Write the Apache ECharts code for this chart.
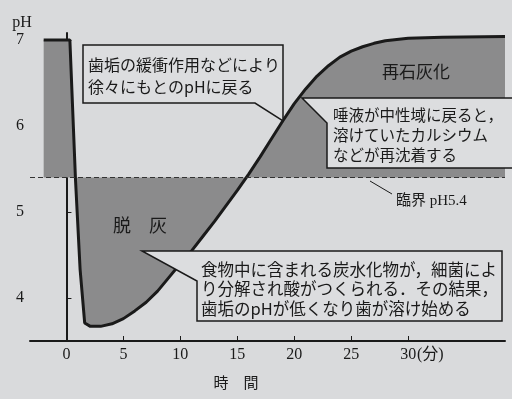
<!DOCTYPE html>
<html>
<head>
<meta charset="utf-8">
<script src="https://cdn.jsdelivr.net/npm/echarts@6/dist/echarts.min.js"></script>
<style>
  html, body { margin: 0; padding: 0; background: #d9dadc; }
  #chart { width: 512px; height: 399px; }
</style>
</head>
<body>
<div id="chart"></div>
<script>
// 時間(分)とpH
const minutes = [-2, 0.3, 0.8, 1.2, 1.6, 2.1, 3, 4, 5, 6, 7, 8, 9, 10, 11, 12, 13, 14, 15, 16, 17, 18, 19, 20, 21, 22, 23, 24, 25, 26, 27, 28, 30, 33, 38.5]
const phValues = [7.0, 7.0, 5.36, 4.33, 3.71, 3.67, 3.67, 3.70, 3.76, 3.85, 3.95, 4.08, 4.24, 4.40, 4.55, 4.72, 4.89, 5.07, 5.25, 5.44, 5.64, 5.85, 6.06, 6.26, 6.43, 6.58, 6.70, 6.80, 6.87, 6.92, 6.96, 6.99, 7.02, 7.03, 7.04]
const criticalPH = 5.4
const xTicks = [0, 5, 10, 15, 20, 25, 30]
const yTicks = [4, 5, 6, 7]

const serif = 'Liberation Serif'
const jp = "'Noto Sans CJK JP', sans-serif"
const ink = '#1a1a1a'
const shade = '#8b8b8c'
const paper = '#dcdddf'

const chart = echarts.init(document.getElementById('chart'))

chart.setOption({
    backgroundColor: '#d9dadc',
    animation: false,
    grid: { left: 30, right: 7, top: 33, bottom: 58 },
    xAxis: {
        type: 'value',
        min: -3.2,
        max: 38.5,
        splitLine: { show: false },
        axisLine: { lineStyle: { color: ink, width: 2 } },
        axisTick: { customValues: xTicks, inside: true, length: 5, lineStyle: { color: ink } },
        axisLabel: { customValues: xTicks, color: ink, fontFamily: serif, fontSize: 16, margin: 6 }
    },
    yAxis: {
        type: 'value',
        min: 3.5,
        max: 7.08,
        splitLine: { show: false },
        axisLine: { show: true, lineStyle: { color: ink, width: 2 } },
        axisTick: { show: true, customValues: yTicks, inside: true, length: 5, lineStyle: { color: ink } },
        axisLabel: { customValues: yTicks, color: ink, fontFamily: serif, fontSize: 16, margin: 6 }
    },
    series: [{
        type: 'line',
        data: minutes.map((m, i) => [m, phValues[i]]),
        showSymbol: false,
        smooth: false,
        lineStyle: { color: ink, width: 3 },
        areaStyle: { origin: criticalPH, color: shade, opacity: 1 },
        markLine: {
            silent: true,
            symbol: 'none',
            label: { show: false },
            lineStyle: { color: '#333', width: 1, type: [5, 3] },
            data: [{ yAxis: criticalPH }]
        }
    }],
    graphic: [
        // 吹き出し
        { type: 'polygon', z: 100, shape: { points: [[83, 45], [283, 45], [283, 121], [255, 103], [83, 103]] },
          style: { fill: paper, stroke: ink, lineWidth: 1.5 } },
        { type: 'text', z: 101, x: 88, y: 76,
          style: { text: '歯垢の緩衝作用などにより\n徐々にもとのpHに戻る', font: '16px ' + jp, lineHeight: 22, fill: ink, verticalAlign: 'middle' } },
        { type: 'polygon', z: 100, shape: { points: [[302, 98], [516, 98], [516, 168], [327, 168], [327, 123]] },
          style: { fill: paper, stroke: ink, lineWidth: 1.5 } },
        { type: 'text', z: 101, x: 333, y: 135,
          style: { text: '唾液が中性域に戻ると，\n溶けていたカルシウム\nなどが再沈着する', font: '15.5px ' + jp, lineHeight: 20, fill: ink, verticalAlign: 'middle' } },
        { type: 'polygon', z: 100, shape: { points: [[142, 251], [502, 251], [502, 321], [197, 321], [197, 281]] },
          style: { fill: paper, stroke: ink, lineWidth: 1.5 } },
        { type: 'text', z: 101, x: 201, y: 289,
          style: { text: '食物中に含まれる炭水化物が，細菌によ\nり分解され酸がつくられる．その結果，\n歯垢のpHが低くなり歯が溶け始める', font: '16.5px ' + jp, lineHeight: 19.5, fill: ink, verticalAlign: 'middle' } },
        // 領域名
        { type: 'text', z: 101, x: 416, y: 72,
          style: { text: '再石灰化', font: '17px ' + jp, fill: ink, align: 'center', verticalAlign: 'middle' } },
        { type: 'text', z: 101, x: 140, y: 225,
          style: { text: '脱　灰', font: '18px ' + jp, fill: ink, align: 'center', verticalAlign: 'middle' } },
        // 臨界
        { type: 'line', z: 101, shape: { x1: 370, y1: 181, x2: 392, y2: 194 }, style: { stroke: ink, lineWidth: 1 } },
        { type: 'text', z: 101, x: 396, y: 201,
          style: { text: '臨界 pH5.4', font: "15px 'Liberation Serif', 'Noto Sans CJK JP'", fill: ink, verticalAlign: 'middle' } },
        // 軸名
        { type: 'text', z: 101, x: 22, y: 23,
          style: { text: 'pH', font: "16px 'Liberation Serif'", fill: ink, align: 'center', verticalAlign: 'middle' } },
        { type: 'text', z: 101, x: 236, y: 382,
          style: { text: '時　間', font: '15px ' + jp, fill: ink, align: 'center', verticalAlign: 'middle' } },
        { type: 'text', z: 101, x: 417, y: 355,
          style: { text: '(分)', font: "16px 'Liberation Serif', 'Noto Sans CJK JP'", fill: ink, verticalAlign: 'middle' } }
    ]
})
</script>
</body>
</html>
